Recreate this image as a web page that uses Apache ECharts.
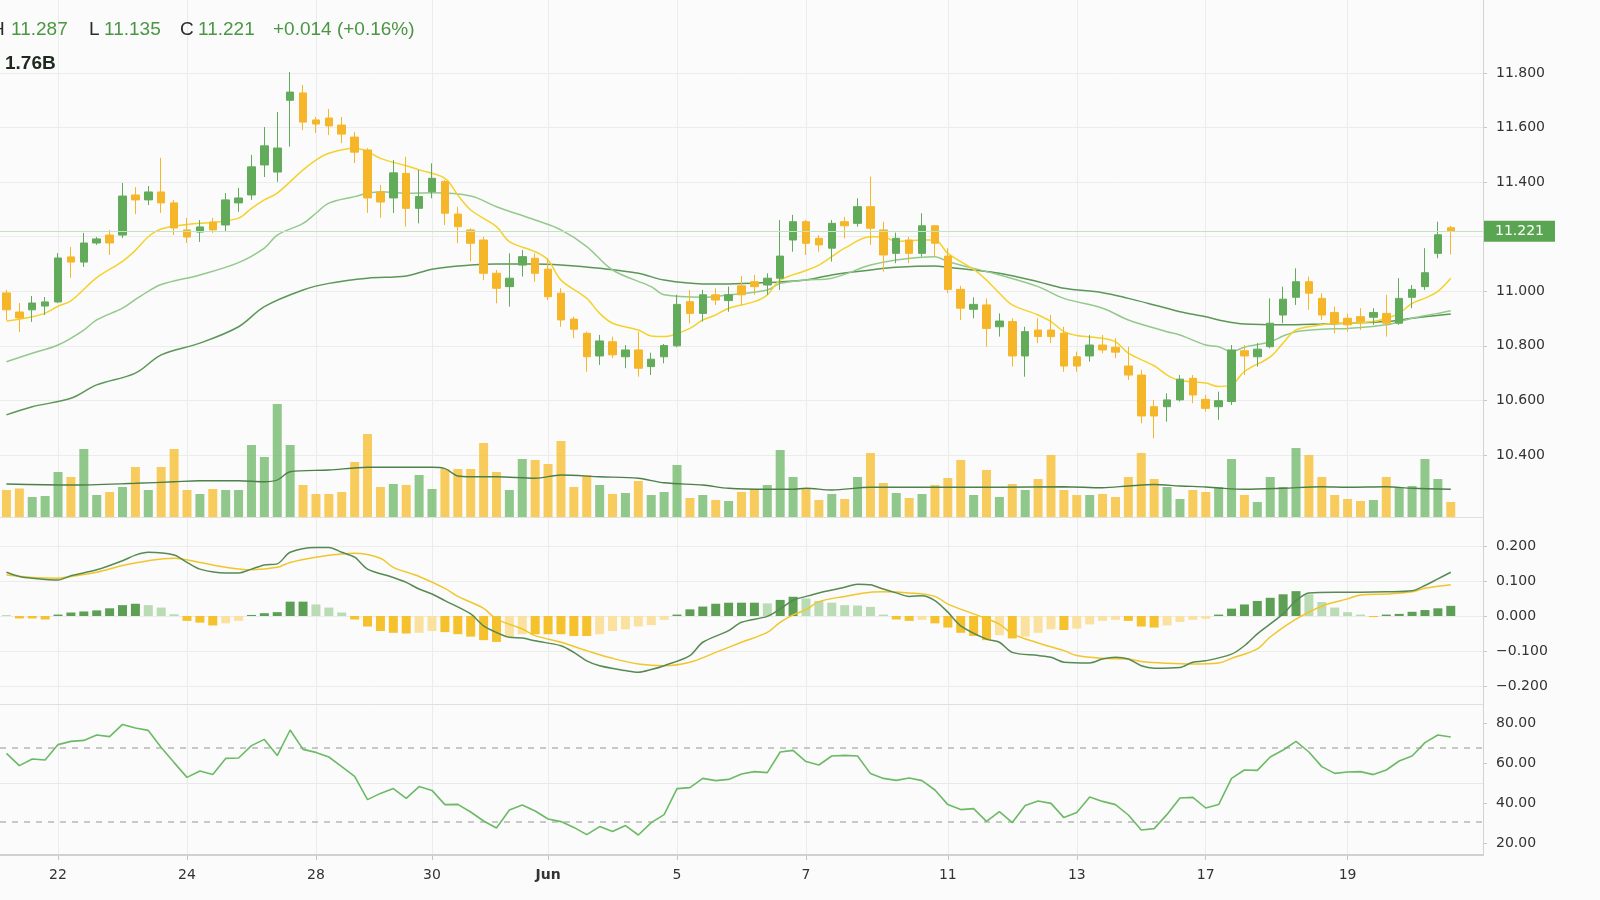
<!DOCTYPE html>
<html>
<head>
<meta charset="utf-8">
<title>Price chart</title>
<script src="https://cdn.jsdelivr.net/npm/echarts@6.0.0/dist/echarts.min.js"></script>
<style>
  html, body { margin: 0; padding: 0; background: #fbfbfb; }
  #chart { width: 1600px; height: 900px; }
</style>
</head>
<body>
<div id="chart"></div>
<script>
// ---- data (one candle per slot) ----
const open = [10.994,10.924,10.932,10.946,10.961,11.126,11.107,11.177,11.206,11.206,
  11.353,11.335,11.364,11.324,11.225,11.217,11.254,11.243,11.324,11.353,
  11.463,11.437,11.700,11.727,11.628,11.635,11.609,11.565,11.518,11.364,
  11.342,11.432,11.304,11.365,11.402,11.283,11.225,11.188,11.066,11.017,
  11.096,11.121,11.081,10.993,10.898,10.846,10.763,10.815,10.760,10.785,
  10.724,10.760,10.800,10.962,10.919,10.987,10.966,11.020,11.035,11.023,
  11.048,11.188,11.255,11.194,11.158,11.255,11.249,11.310,11.225,11.139,
  11.188,11.139,11.240,11.129,11.007,10.934,10.950,10.870,10.889,10.763,
  10.858,10.858,10.846,10.760,10.763,10.803,10.795,10.726,10.693,10.577,
  10.577,10.602,10.681,10.604,10.577,10.596,10.782,10.760,10.797,10.913,
  10.978,11.035,10.974,10.922,10.901,10.907,10.905,10.919,10.883,10.978,
  11.017,11.139,11.233]
const close = [10.932,10.902,10.957,10.961,11.122,11.107,11.177,11.192,11.177,11.349,
  11.335,11.364,11.324,11.232,11.199,11.236,11.225,11.335,11.342,11.456,
  11.533,11.525,11.730,11.620,11.613,11.606,11.576,11.510,11.342,11.327,
  11.434,11.304,11.347,11.414,11.286,11.237,11.176,11.066,11.011,11.048,
  11.127,11.066,10.980,10.895,10.861,10.760,10.818,10.767,10.785,10.718,
  10.751,10.801,10.952,10.919,10.987,10.968,10.987,10.987,11.017,11.048,
  11.129,11.255,11.176,11.170,11.249,11.240,11.310,11.231,11.133,11.194,
  11.139,11.240,11.176,11.007,10.938,10.952,10.864,10.891,10.763,10.852,
  10.834,10.834,10.726,10.726,10.803,10.785,10.777,10.693,10.543,10.543,
  10.602,10.678,10.620,10.571,10.599,10.785,10.763,10.788,10.883,10.971,
  11.035,10.993,10.913,10.883,10.877,10.889,10.922,10.883,10.974,11.007,
  11.068,11.207,11.221]
const high = [11.005,10.957,10.983,10.979,11.140,11.162,11.214,11.199,11.225,11.397,
  11.382,11.386,11.489,11.335,11.269,11.261,11.269,11.360,11.379,11.500,
  11.602,11.657,11.804,11.756,11.639,11.668,11.639,11.584,11.525,11.390,
  11.481,11.493,11.445,11.469,11.408,11.310,11.231,11.200,11.078,11.139,
  11.151,11.139,11.121,11.011,10.907,10.852,10.840,10.834,10.803,10.852,
  10.775,10.807,10.987,11.005,11.005,11.011,11.017,11.056,11.060,11.066,
  11.261,11.280,11.261,11.206,11.261,11.273,11.341,11.420,11.255,11.215,
  11.200,11.286,11.243,11.158,11.020,10.978,10.974,10.919,10.901,10.870,
  10.901,10.913,10.870,10.779,10.840,10.840,10.828,10.797,10.712,10.602,
  10.626,10.693,10.693,10.620,10.632,10.803,10.803,10.810,10.974,11.017,
  11.084,11.054,10.993,10.944,10.919,10.938,10.938,10.987,11.048,11.023,
  11.158,11.255,11.240]
const low = [10.895,10.851,10.888,10.913,10.957,11.049,11.089,11.170,11.133,11.195,
  11.283,11.316,11.287,11.206,11.177,11.181,11.214,11.217,11.291,11.335,
  11.419,11.401,11.530,11.591,11.580,11.573,11.543,11.470,11.287,11.269,
  11.287,11.237,11.249,11.341,11.243,11.176,11.109,11.041,10.956,10.944,
  11.054,11.035,10.968,10.870,10.828,10.705,10.730,10.755,10.718,10.687,
  10.693,10.736,10.795,10.883,10.889,10.950,10.925,10.950,10.987,10.987,
  11.005,11.145,11.133,11.145,11.109,11.194,11.237,11.170,11.072,11.103,
  11.103,11.127,11.127,10.993,10.895,10.901,10.797,10.834,10.724,10.687,
  10.810,10.810,10.705,10.705,10.742,10.773,10.755,10.675,10.516,10.461,
  10.522,10.596,10.590,10.559,10.529,10.583,10.693,10.724,10.791,10.883,
  10.950,10.932,10.895,10.846,10.852,10.858,10.877,10.834,10.877,10.938,
  11.005,11.121,11.135]
// volume, millions
const volume = [540,570,400,420,900,800,1360,440,500,600,
  1000,540,1000,1360,540,460,560,540,540,1440,
  1200,2260,1440,640,460,460,500,1100,1660,600,
  660,640,840,560,960,960,960,1480,900,540,
  1160,1140,1060,1520,600,840,640,460,480,720,
  440,500,1040,380,440,340,320,500,560,640,
  1340,800,560,340,460,360,800,1280,680,480,
  380,460,640,780,1140,440,940,400,660,540,
  760,1240,540,440,440,460,400,800,1280,760,
  600,360,540,500,600,1160,440,300,800,600,
  1380,1240,800,440,360,320,340,800,580,620,
  1160,760,300]

// moving averages as [slot, value] points
const maFast = [[0,10.891],[2,10.907],[3,10.920],[4,10.945],[5,10.965],[7,11.050],[9,11.110],[10,11.150],
  [11,11.200],[12,11.228],[14,11.245],[15,11.249],[16,11.252],[18,11.268],[19,11.304],[20,11.335],
  [21,11.360],[23,11.445],[24,11.481],[25,11.506],[27,11.524],[28,11.512],[29,11.487],[31,11.460],
  [32,11.445],[34,11.414],[35,11.353],[36,11.298],[38,11.237],[39,11.182],[41,11.145],[42,11.115],
  [43,11.041],[45,10.974],[46,10.919],[47,10.883],[49,10.858],[50,10.836],[51,10.834],[53,10.864],
  [54,10.895],[55,10.913],[56,10.938],[58,10.962],[59,10.987],[60,11.041],[62,11.076],[63,11.096],
  [64,11.127],[65,11.158],[67,11.200],[68,11.200],[69,11.182],[71,11.188],[72,11.188],[73,11.139],
  [75,11.080],[76,11.041],[77,10.993],[78,10.950],[80,10.913],[81,10.889],[82,10.852],[83,10.838],
  [85,10.828],[86,10.815],[87,10.773],[89,10.727],[90,10.693],[91,10.673],[93,10.664],[94,10.651],
  [95,10.657],[96,10.706],[98,10.760],[99,10.810],[100,10.858],[102,10.877],[103,10.883],[104,10.883],
  [106,10.889],[107,10.901],[108,10.919],[109,10.956],[110,10.975],[111,11.000],[112,11.048]]
const maMid = [[0,10.742],[2,10.773],[4,10.803],[6,10.858],[7,10.895],[9,10.938],[10,10.970],[11,11.000],
  [12,11.025],[15,11.060],[18,11.105],[20,11.158],[21,11.206],[23,11.249],[24,11.286],[25,11.323],
  [27,11.347],[28,11.359],[29,11.365],[31,11.359],[33,11.361],[36,11.349],[38,11.310],[41,11.261],
  [43,11.225],[45,11.164],[47,11.078],[50,11.017],[51,10.987],[54,10.978],[56,10.987],[59,11.005],
  [60,11.029],[62,11.041],[64,11.048],[67,11.096],[69,11.115],[72,11.127],[73,11.109],[75,11.084],
  [77,11.060],[80,11.017],[82,10.974],[85,10.938],[87,10.895],[90,10.852],[91,10.840],[93,10.803],
  [94,10.797],[95,10.779],[96,10.795],[98,10.815],[99,10.836],[100,10.852],[102,10.861],[104,10.864],
  [107,10.877],[109,10.901],[111,10.919],[112,10.929]]
const maSlow = [[0,10.547],[2,10.577],[5,10.608],[7,10.657],[10,10.700],[12,10.767],[15,10.810],[18,10.870],
  [20,10.944],[23,11.005],[25,11.029],[28,11.048],[31,11.056],[33,11.081],[36,11.096],[38,11.100],
  [41,11.100],[43,11.096],[46,11.084],[49,11.066],[51,11.041],[54,11.027],[56,11.027],[59,11.032],
  [62,11.041],[64,11.060],[67,11.078],[69,11.088],[72,11.093],[73,11.088],[75,11.078],[77,11.066],
  [80,11.035],[82,11.011],[85,10.995],[87,10.974],[89,10.950],[91,10.925],[93,10.907],[94,10.895],
  [96,10.880],[99,10.877],[102,10.880],[104,10.883],[107,10.889],[109,10.901],[112,10.917]]
const volMa = [[0,660],[5,640],[10,675],[13,705],[15,725],[18,725],[20,705],[21,740],[22,905],[25,940],
  [28,995],[31,995],[33,995],[34,970],[35,820],[36,805],[38,805],[41,775],[43,840],[46,805],[49,775],
  [51,685],[54,640],[56,575],[59,555],[61,555],[62,575],[64,540],[67,595],[72,595],[77,595],[82,605],
  [85,585],[87,620],[89,650],[91,620],[93,600],[94,580],[96,555],[99,575],[102,605],[104,595],[107,605],
  [109,575],[112,555]]

// MACD
const macdLine = [[0,0.125],[1,0.113],[2,0.108],[4,0.103],[5,0.115],[7,0.132],[9,0.158],[10,0.174],
  [11,0.182],[13,0.174],[14,0.153],[15,0.134],[17,0.123],[18,0.123],[19,0.134],[20,0.146],[21,0.149],
  [22,0.182],[24,0.196],[25,0.196],[26,0.182],[27,0.168],[28,0.134],[30,0.110],[31,0.096],[32,0.077],
  [33,0.063],[34,0.044],[36,0.006],[37,-0.028],[38,-0.047],[39,-0.061],[40,-0.063],[41,-0.071],
  [43,-0.085],[44,-0.104],[45,-0.128],[46,-0.142],[48,-0.156],[49,-0.161],[50,-0.153],[51,-0.142],
  [53,-0.113],[54,-0.075],[56,-0.042],[57,-0.018],[59,-0.001],[60,0.020],[61,0.045],[62,0.056],
  [63,0.066],[65,0.082],[66,0.091],[67,0.089],[68,0.077],[69,0.066],[70,0.056],[71,0.058],[72,0.044],
  [73,0.011],[74,-0.028],[76,-0.066],[77,-0.075],[78,-0.104],[80,-0.113],[81,-0.118],[82,-0.132],
  [84,-0.134],[85,-0.123],[86,-0.118],[87,-0.123],[88,-0.142],[89,-0.149],[91,-0.147],[92,-0.132],
  [93,-0.128],[95,-0.109],[96,-0.085],[97,-0.051],[99,0.006],[100,0.044],[101,0.066],[103,0.068],
  [105,0.068],[107,0.069],[109,0.072],[110,0.087],[111,0.106],[112,0.125]]
const signalLine = [[0,0.117],[2,0.110],[4,0.108],[5,0.113],[7,0.125],[9,0.144],[11,0.158],[13,0.165],
  [15,0.153],[17,0.139],[19,0.132],[21,0.139],[22,0.153],[24,0.168],[26,0.177],[27,0.179],[29,0.165],
  [30,0.139],[32,0.113],[34,0.079],[35,0.056],[37,0.022],[38,-0.009],[40,-0.037],[41,-0.056],
  [43,-0.075],[45,-0.099],[47,-0.121],[49,-0.137],[51,-0.142],[53,-0.132],[55,-0.104],[57,-0.075],
  [59,-0.047],[60,-0.018],[61,0.003],[62,0.018],[63,0.041],[65,0.056],[67,0.068],[68,0.069],[70,0.066],
  [72,0.056],[73,0.034],[75,0.006],[77,-0.023],[78,-0.051],[80,-0.077],[82,-0.099],[83,-0.113],
  [85,-0.121],[87,-0.123],[88,-0.130],[90,-0.135],[92,-0.137],[94,-0.134],[95,-0.121],[97,-0.094],
  [98,-0.060],[100,-0.009],[102,0.028],[104,0.049],[105,0.060],[107,0.063],[109,0.069],[110,0.079],
  [112,0.089]]
const hist = [0.001,-0.007,-0.007,-0.010,0.004,0.010,0.013,0.016,0.022,0.031,
  0.035,0.031,0.024,0.005,-0.014,-0.019,-0.027,-0.021,-0.014,0.003,
  0.008,0.011,0.041,0.041,0.033,0.024,0.010,-0.010,-0.030,-0.043,
  -0.048,-0.050,-0.048,-0.043,-0.046,-0.052,-0.059,-0.069,-0.074,-0.062,
  -0.052,-0.052,-0.052,-0.052,-0.057,-0.057,-0.052,-0.043,-0.038,-0.030,
  -0.026,-0.011,0.004,0.019,0.027,0.035,0.038,0.038,0.038,0.036,
  0.046,0.055,0.050,0.043,0.038,0.031,0.030,0.026,0.004,-0.010,
  -0.014,-0.011,-0.021,-0.033,-0.048,-0.057,-0.069,-0.055,-0.064,-0.059,
  -0.048,-0.038,-0.040,-0.036,-0.024,-0.014,-0.011,-0.014,-0.030,-0.033,
  -0.027,-0.017,-0.011,-0.008,0.004,0.021,0.033,0.043,0.052,0.062,
  0.071,0.062,0.040,0.024,0.011,0.004,-0.003,0.004,0.006,0.012,
  0.017,0.022,0.029]

// RSI
const rsi = [64.8,58.7,62.0,61.5,69.2,70.8,71.3,74.0,73.2,79.3,
  77.5,76.3,67.7,60.2,52.8,56.0,54.2,62.3,62.5,68.7,
  71.8,63.7,76.5,66.8,65.3,63.0,58.2,53.3,41.7,44.8,
  47.2,42.3,48.2,46.3,39.2,39.3,35.5,31.0,27.5,36.5,
  39.0,36.0,32.0,30.7,27.8,24.2,28.2,25.7,28.7,24.0,
  30.2,34.2,47.2,47.7,52.3,51.2,51.8,54.5,55.7,55.2,
  65.5,66.3,60.7,59.0,63.5,63.8,63.5,54.7,52.3,51.3,
  52.5,51.2,46.5,39.2,36.7,37.2,30.8,35.7,30.2,38.7,
  41.0,39.8,32.7,35.3,43.0,40.8,39.2,34.0,26.5,27.2,
  34.3,42.5,42.8,37.5,39.2,52.3,56.5,56.3,63.0,66.5,
  70.8,65.5,58.2,54.8,55.5,55.7,54.2,56.5,61.0,63.5,
  70.2,74.0,73.0]
const rsiBands = [67.5, 50, 30.5]

// time axis
const dateLabels = ['22', '24', '28', '30', 'Jun', '5', '7', '11', '13', '17', '19']
const dateSlots  = [4, 14, 24, 33, 42, 52, 62, 73, 83, 93, 104]

// header read-out
const headerHigh  = '11.287'
const headerLow   = '11.135'
const headerClose = '11.221'
const headerChg   = '+0.014 (+0.16%)'
const headerVol   = '1.76B'

// ---- layout / style ----
const SLOTS   = 115
const RIGHT   = 117
const PLOT_W  = 1600 - RIGHT
const BAND    = PLOT_W / SLOTS

const UP       = '#62ab5b'
const DOWN     = '#f6b62a'
const UP_VOL   = 'rgba(108,182,100,0.75)'
const DOWN_VOL = 'rgba(248,192,52,0.8)'
const GRID_C   = '#ececec'
const TXT      = '#333333'
const AXIS_FONT = 'DejaVu Sans'

const slotIds = Array.from({ length: SLOTS }, (_, i) => 's' + i)
const labelAt = new Map(dateSlots.map((s, i) => [s, dateLabels[i]]))
const isLabel = (idx) => labelAt.has(idx)

const candles = open.map((o, i) => [o, close[i], low[i], high[i]])
const volBars = volume.map((v, i) => ({
  value: v,
  itemStyle: { color: close[i] >= open[i] ? UP_VOL : DOWN_VOL },
}))
const histBars = hist.map((v, i) => {
  const prev = i ? hist[i - 1] : 0
  let color
  if (v >= 0) color = v >= prev ? '#5d9f55' : '#b9dcb4'
  else        color = v <= prev ? '#f5c12c' : '#fbe1a0'
  return { value: v, itemStyle: { color } }
})
const lastClose = close[close.length - 1]

const macdFmt = (v) => (v < -1e-9 ? '\u2212' : '') + Math.abs(v).toFixed(3)

const hiddenX = (g) => ({ type: 'category', gridIndex: g, data: slotIds, boundaryGap: true, show: false })
const rightY = (g, extra) => Object.assign({
  type: 'value', gridIndex: g, position: 'right', scale: false,
  axisLine:  { show: true, lineStyle: { color: '#d2d2d2' } },
  axisTick:  { show: true, length: 4, lineStyle: { color: '#c8c8c8' } },
  axisLabel: { color: TXT, fontSize: 14, fontFamily: AXIS_FONT, margin: 13 },
  splitLine: { show: true, lineStyle: { color: GRID_C } },
}, extra)

const grids = [
  { left: 0, right: RIGHT, top: 73,  height: 382 },   // price
  { left: 0, right: RIGHT, top: 397, height: 120 },   // volume
  { left: 0, right: RIGHT, top: 546, height: 140 },   // macd
  { left: 0, right: RIGHT, top: 723, height: 120 },   // rsi
  { left: BAND / 2, width: BAND * (SLOTS - 1), top: 0, height: 855 },  // time axis frame
].map(g => Object.assign({ outerBoundsMode: 'none', containLabel: false }, g))

const chart = echarts.init(document.getElementById('chart'))

const txt = (x, y, text, fill, weight) => ({
  type: 'text', x, y, silent: true, z: 10,
  style: { text, fill, font: (weight || 'normal') + ' 19px "Liberation Sans"', verticalAlign: 'middle', textVerticalAlign: 'middle' },
})
const hline = (y, x2, stroke, w) => ({
  type: 'line', silent: true, z: 1,
  shape: { x1: 0, y1: y, x2, y2: y }, style: { stroke, lineWidth: w || 1 },
})

chart.setOption({
  backgroundColor: '#fbfbfb',
  animation: false,
  grid: grids,
  xAxis: [
    hiddenX(0), hiddenX(1), hiddenX(2), hiddenX(3),
    {
      type: 'category', gridIndex: 4, data: slotIds, boundaryGap: false,
      axisLine: { show: false },
      axisTick: { show: true, interval: isLabel, length: 5, lineStyle: { color: '#c4c4c4' } },
      axisLabel: {
        interval: isLabel, margin: 13, color: TXT, fontSize: 14, fontFamily: AXIS_FONT,
        formatter: (val, idx) => {
          const s = labelAt.get(idx) || ''
          return /^[A-Za-z]/.test(s) ? '{b|' + s + '}' : s
        },
        rich: { b: { fontWeight: 'bold', fontSize: 14, fontFamily: AXIS_FONT, color: TXT } },
      },
      splitLine: { show: true, interval: isLabel, lineStyle: { color: GRID_C } },
    },
  ],
  yAxis: [
    rightY(0, { min: 10.4, max: 11.8, interval: 0.2,
      axisLabel: { color: TXT, fontSize: 14, fontFamily: AXIS_FONT, margin: 13, formatter: v => v.toFixed(3) } }),
    { type: 'value', gridIndex: 1, min: 0, max: 2400, show: false },
    rightY(2, { min: -0.2, max: 0.2, interval: 0.1,
      axisLabel: { color: TXT, fontSize: 14, fontFamily: AXIS_FONT, margin: 13, formatter: macdFmt } }),
    rightY(3, { min: 20, max: 80, interval: 20, splitLine: { show: false },
      axisLabel: { color: TXT, fontSize: 14, fontFamily: AXIS_FONT, margin: 13, formatter: v => v.toFixed(2) } }),
    { type: 'value', gridIndex: 4, show: false },
  ],
  series: [
    {
      type: 'candlestick', xAxisIndex: 0, yAxisIndex: 0, data: candles,
      barWidth: 8, clip: false, z: 4,
      itemStyle: { color: UP, color0: DOWN, borderColor: UP, borderColor0: DOWN, borderWidth: 1 },
      markLine: {
        silent: true, symbol: ['none', 'none'], z: 5,
        lineStyle: { color: '#c4e2c0', width: 1, type: 'solid' },
        label: {
          show: true, position: 'end', distance: 1, formatter: lastClose.toFixed(3),
          color: '#ffffff', backgroundColor: '#5aa552', padding: [4, 11, 3, 11],
          fontSize: 14, fontFamily: AXIS_FONT,
        },
        data: [{ yAxis: lastClose }],
      },
    },
    { type: 'line', xAxisIndex: 0, yAxisIndex: 0, data: maSlow, smooth: 0.35, showSymbol: false, z: 3,
      lineStyle: { color: '#5b9756', width: 1.5 } },
    { type: 'line', xAxisIndex: 0, yAxisIndex: 0, data: maMid, smooth: 0.35, showSymbol: false, z: 3,
      lineStyle: { color: '#93ca8c', width: 1.5 } },
    { type: 'line', xAxisIndex: 0, yAxisIndex: 0, data: maFast, smooth: 0.35, showSymbol: false, z: 3,
      lineStyle: { color: '#f4d22c', width: 1.5 } },
    { type: 'bar', xAxisIndex: 1, yAxisIndex: 1, data: volBars, barWidth: 9, z: 2 },
    { type: 'line', xAxisIndex: 1, yAxisIndex: 1, data: volMa, smooth: 0.3, showSymbol: false, z: 3,
      lineStyle: { color: '#4d8049', width: 1.3 } },
    { type: 'bar', xAxisIndex: 2, yAxisIndex: 2, data: histBars, barWidth: 9, z: 2 },
    { type: 'line', xAxisIndex: 2, yAxisIndex: 2, data: signalLine, smooth: 0.35, showSymbol: false, z: 3,
      lineStyle: { color: '#f1c62a', width: 1.5 } },
    { type: 'line', xAxisIndex: 2, yAxisIndex: 2, data: macdLine, smooth: 0.3, showSymbol: false, z: 4,
      lineStyle: { color: '#568a52', width: 1.5 } },
    {
      type: 'line', xAxisIndex: 3, yAxisIndex: 3, data: rsi, showSymbol: false, z: 4,
      lineStyle: { color: '#6cba65', width: 1.6 },
      markLine: {
        silent: true, symbol: ['none', 'none'], label: { show: false }, z: 2,
        data: rsiBands.map(v => ({
          yAxis: v,
          lineStyle: v === 50
            ? { color: '#e8e8e8', width: 1, type: 'solid' }
            : { color: '#b8b8b8', width: 1.5, type: [6, 6] },
        })),
      },
    },
  ],
  graphic: [
    hline(517.5, PLOT_W, '#e0e0e0'),
    hline(704.5, PLOT_W, '#e0e0e0'),
    hline(855, PLOT_W, '#d0d0d0', 2),
    { type: 'line', silent: true, z: 1, shape: { x1: PLOT_W + 0.5, y1: 0, x2: PLOT_W + 0.5, y2: 856 },
      style: { stroke: '#d2d2d2', lineWidth: 1 } },
    txt(-9, 30, 'H', '#2b2b2b'),
    txt(11, 30, headerHigh, '#4a9643'),
    txt(89, 30, 'L', '#2b2b2b'),
    txt(104, 30, headerLow, '#4a9643'),
    txt(180, 30, 'C', '#2b2b2b'),
    txt(198, 30, headerClose, '#4a9643'),
    txt(273, 30, headerChg, '#4a9643'),
    txt(5, 64, headerVol, '#1f2a1f', 'bold'),
  ],
})
</script>
</body>
</html>
